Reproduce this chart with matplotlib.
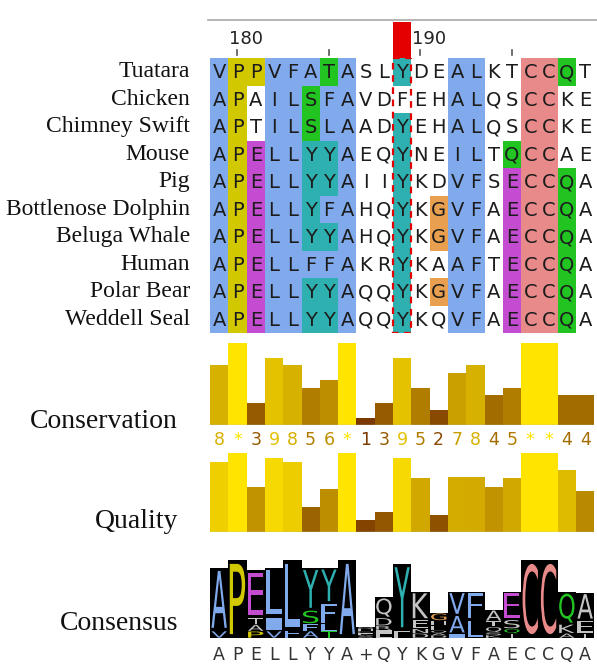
import numpy as np
import matplotlib
matplotlib.use("Agg")
import matplotlib.pyplot as plt
from matplotlib.patches import Rectangle, PathPatch
from matplotlib.lines import Line2D
from matplotlib.textpath import TextPath
from matplotlib.font_manager import FontProperties
from matplotlib.transforms import Affine2D
from collections import Counter

# ---- alignment data -------------------------------------------------------
species = ["Tuatara", "Chicken", "Chimney Swift", "Mouse", "Pig",
           "Bottlenose Dolphin", "Beluga Whale", "Human", "Polar Bear",
           "Weddell Seal"]

sequences = [
    "VPPVFATASLYDEALKTCCQT",
    "APAILSFAVDFEHALQSCCKE",
    "APTILSLAADYEHALQSCCKE",
    "APELLYYAEQYNEILTQCCAE",
    "APELLYYAIIYKDVFSECCQA",
    "APELLYFAHQYKGVFAECCQA",
    "APELLYYAHQYKGVFAECCQA",
    "APELLFFAKRYKAAFTECCQA",
    "APELLYYAQQYKGVFAECCQA",
    "APELLYYAQQYKQVFAECCQA",
]

# Clustal colour class of every residue ('.' = uncoloured)
colour_codes = [
    "byybbbgb..t..bb..ppg.",
    "by.bbgbb.....bb..pp..",
    "by.bbgbb..t..bb..pp..",
    "bymbbttb..t..bb.gpp..",
    "bymbbttb..t..bb.mppg.",
    "bymbbtbb..t.obb.mppg.",
    "bymbbttb..t.obb.mppg.",
    "bymbbbbb..t..bb.mppg.",
    "bymbbttb..t.obb.mppg.",
    "bymbbttb..t..bb.mppg.",
]

start_position = 179
selected_position = 189

# ---- annotation rows ------------------------------------------------------
conservation = [8, 11, 3, 9, 8, 5, 6, 11, 1, 3, 9, 5, 2, 7, 8, 4, 5, 11, 11, 4, 4]
quality = [0.89, 1.00, 0.57, 0.94, 0.88, 0.32, 0.54, 1.00, 0.15, 0.25, 0.94,
           0.68, 0.22, 0.70, 0.69, 0.57, 0.68, 1.00, 1.00, 0.78, 0.52]
logo_height = [0.90, 1.00, 0.87, 0.90, 1.00, 0.90, 0.90, 1.00, 0.14, 0.52, 0.95,
               0.59, 0.32, 0.59, 0.59, 0.36, 0.59, 1.00, 1.00, 0.59, 0.58]

palette = {"b": "#80aaec", "y": "#d2c800", "m": "#c44cd0", "g": "#22c422",
           "t": "#2eb0b0", "p": "#e88a8a", "o": "#e8a050"}


def shade(f):
    low = np.array([110, 40, 0])
    high = np.array([255, 228, 0])
    return tuple((low + (high - low) * f) / 255.0)


# ---- figure layout (pixel based) -----------------------------------------
W, H = 597, 667
fig = plt.figure(figsize=(W / 100, H / 100), dpi=100)
fig.patch.set_facecolor("white")

nrow = len(sequences)
ncol = len(sequences[0])
x0, cw = 210, 18.3
span = ncol * cw


def px_axes(x, y, w, h):
    ax = fig.add_axes([x / W, 1 - (y + h) / H, w / W, h / H])
    ax.set_axis_off()
    ax.set_xlim(-0.5, ncol - 0.5)
    return ax


sel = selected_position - start_position
seq_font = dict(family="DejaVu Sans", size=14, color="#1c1c1c")
label_font = dict(family="Liberation Serif", size=17, color="#111111")
track_font = dict(family="Liberation Serif", size=20, color="#111111")

# ---- ruler ----------------------------------------------------------------
fig.add_artist(Line2D([208 / W, 1.0], [1 - 20 / H] * 2, color="#a8a8a8", lw=1.2))
ruler = px_axes(x0, 18, span, 40)
ruler.set_ylim(40, 0)
ruler.add_patch(Rectangle((sel - 0.5, 4), 1, 36, fc="#e40000", lw=0))
for c in range(ncol):
    pos = start_position + c
    if pos % 5 == 0:
        ruler.plot([c, c], [32, 37], color="#555555", lw=1.2)
    if pos % 10 == 0:
        ruler.text(c - 0.48, 21, str(pos), ha="left", va="center",
                   family="DejaVu Sans", size=13, color="#222222")

# ---- alignment ------------------------------------------------------------
aln = px_axes(x0, 58, span, 275)
aln.set_ylim(nrow, 0)
for r, (seq, codes) in enumerate(zip(sequences, colour_codes)):
    for c, (res, code) in enumerate(zip(seq, codes)):
        if code != ".":
            aln.add_patch(Rectangle((c - 0.5, r), 1, 1, fc=palette[code], lw=0))
        aln.text(c, r + 0.53, res, ha="center", va="center", **seq_font)
    aln.text(-0.5 - 20 / cw, r + 0.5, species[r], ha="right", va="center",
             clip_on=False, **label_font)
aln.add_patch(Rectangle((sel - 0.5, 0), 1, nrow, fill=False, ec="#e40000",
                        lw=1.6, ls=(0, (3, 2.5))))

# ---- conservation ---------------------------------------------------------
cons_ax = px_axes(x0, 343, span, 82)
cons_ax.set_ylim(0, 11)
cols = np.arange(ncol)
cons_ax.bar(cols, conservation, width=1.0, color=[shade(v / 11) for v in conservation], lw=0)
cons_ax.axhline(0, color="#b8b8b8", lw=1)
for c, v in enumerate(conservation):
    cons_ax.text(c, -2.0, "*" if v == 11 else str(v), ha="center", va="center",
                 family="DejaVu Sans", size=12.5, color=shade(v / 11), clip_on=False)
fig.text(178 / W, 1 - 421 / H, "Conservation", ha="right", va="center", **track_font)

# ---- quality --------------------------------------------------------------
qual_ax = px_axes(x0, 453, span, 79)
qual_ax.set_ylim(0, 1)
qual_ax.bar(cols, quality, width=1.0, color=[shade(q) for q in quality], lw=0)
qual_ax.axhline(0, color="#b8b8b8", lw=1)
fig.text(178 / W, 1 - 521 / H, "Quality", ha="right", va="center", **track_font)

# ---- consensus logo -------------------------------------------------------
logo_ax = px_axes(x0, 560, span, 78)
logo_ax.set_ylim(0, 1)
logo_prop = FontProperties(family="DejaVu Sans")
consensus = []
for c in range(ncol):
    column = [s[c] for s in sequences]
    ranked = Counter(column).most_common()
    if len(ranked) > 1 and ranked[0][1] == ranked[1][1]:
        consensus.append("+")
    else:
        consensus.append(ranked[0][0])
    hcol = logo_height[c]
    logo_ax.add_patch(Rectangle((c - 0.5, 0), 1, hcol, fc="black", lw=0))
    y = 0.0
    for res, n in sorted(ranked, key=lambda t: t[1]):
        h = hcol * n / nrow
        codes = {colour_codes[r][c] for r in range(nrow) if sequences[r][c] == res}
        codes.discard(".")
        colour = palette[sorted(codes)[0]] if codes else "#c4c4c4"
        tp = TextPath((0, 0), res, size=1, prop=logo_prop)
        bb = tp.get_extents()
        tr = (Affine2D().translate(-bb.x0, -bb.y0)
              .scale(0.84 / bb.width, h * 0.9 / bb.height)
              .translate(c - 0.42, y + h * 0.05))
        logo_ax.add_patch(PathPatch(tp, transform=tr + logo_ax.transData,
                                    fc=colour, lw=0))
        y += h
for c, ch in enumerate(consensus):
    logo_ax.text(c, -0.22, ch, ha="center", va="center", family="DejaVu Sans",
                 size=12.5, color="#333333", clip_on=False)
fig.text(178 / W, 1 - 624 / H, "Consensus", ha="right", va="center", **track_font)

fig.savefig("out.png", dpi=100)
